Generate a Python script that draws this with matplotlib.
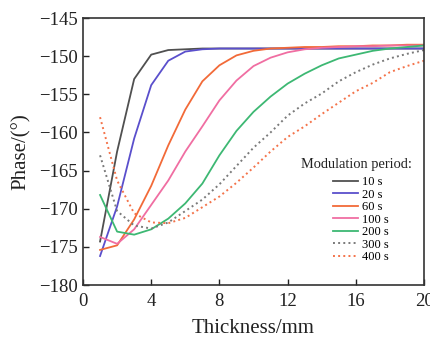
import numpy as np
import matplotlib
matplotlib.use("Agg")
import matplotlib.pyplot as plt

plt.rcParams['font.family'] = ['Liberation Serif', 'DejaVu Serif']

thickness = np.arange(1, 21)

# phase values (deg)
p10 = [-174.3, -162.5, -153.0, -149.8, -149.2, -149.1, -149.0, -149.0, -149.0, -149.0,
       -149.0, -149.0, -149.0, -149.0, -149.0, -149.0, -149.0, -149.0, -149.0, -149.0]
p20 = [-176.2, -169.7, -160.8, -153.8, -150.6, -149.4, -149.1, -149.0, -149.0, -149.0,
       -149.0, -149.0, -149.0, -149.0, -149.0, -149.0, -149.0, -149.0, -149.0, -149.0]
p60 = [-175.4, -174.8, -171.4, -167.0, -161.7, -157.0, -153.3, -151.2, -149.9, -149.3,
       -149.0, -148.9, -148.8, -148.8, -148.7, -148.7, -148.6, -148.6, -148.5, -148.5]
p100 = [-173.7, -174.6, -172.7, -169.5, -166.3, -162.5, -159.2, -155.8, -153.2, -151.3,
        -150.2, -149.5, -149.1, -148.9, -148.8, -148.7, -148.7, -148.6, -148.6, -148.6]
p200 = [-168.2, -173.0, -173.4, -172.7, -171.3, -169.3, -166.7, -163.0, -159.8, -157.3,
        -155.3, -153.6, -152.3, -151.2, -150.3, -149.8, -149.3, -149.0, -148.8, -148.6]
p300 = [-163.0, -170.3, -172.2, -172.6, -171.8, -170.3, -168.8, -166.8, -164.4, -162.0,
        -160.0, -157.8, -156.2, -154.9, -153.3, -152.1, -151.1, -150.3, -149.7, -149.2]
p400 = [-158.0, -166.3, -170.6, -171.8, -171.9, -171.2, -169.8, -168.4, -166.6, -164.6,
        -162.5, -160.6, -159.2, -157.6, -156.1, -154.6, -153.5, -152.1, -151.3, -150.6]

labels = ['10 s', '20 s', '60 s', '100 s', '200 s', '300 s', '400 s']
colors = ['#505050', '#5a4fcc', '#f26a38', '#f06ea2', '#3db873', '#7a7a7a', '#f4734a']
styles = ['-', '-', '-', '-', '-', ':', ':']
series = [p10, p20, p60, p100, p200, p300, p400]

fig = plt.figure(figsize=(4.31, 3.41), dpi=100)
ax = fig.add_axes([0.1926, 0.1642, 0.7912, 0.783])

for y, lab, c, ls in zip(series, labels, colors, styles):
    ax.plot(thickness, y, color=c, linestyle=ls, lw=1.4 if ls == ':' else 1.3, label=lab)

ax.set_xlim(0, 20)
ax.set_ylim(-180, -145)
ax.set_xticks(np.arange(0, 21, 4))
ax.set_yticks(np.arange(-180, -144, 5))
ax.tick_params(direction='in', length=4, width=1, labelsize=13.5, colors='#222222')
ax.tick_params(axis='x', pad=6)
for s in ax.spines.values():
    s.set_linewidth(1.2)
    s.set_color('#333333')

ax.set_xlabel('Thickness/mm', fontsize=15, labelpad=6, color='#222222')
ax.set_ylabel('Phase/(°)', fontsize=15, labelpad=6, color='#222222')

ax.text(0.802, 0.453, 'Modulation period:', transform=ax.transAxes, fontsize=10.4,
        ha='center', va='center', color='#222222')
ax.legend(loc='upper left', bbox_to_anchor=(0.733, 0.408),
          frameon=False, fontsize=9, handlelength=2.0,
          labelspacing=0.04, handletextpad=0.3, borderaxespad=0, borderpad=0)

fig.savefig('out.png', dpi=100)
